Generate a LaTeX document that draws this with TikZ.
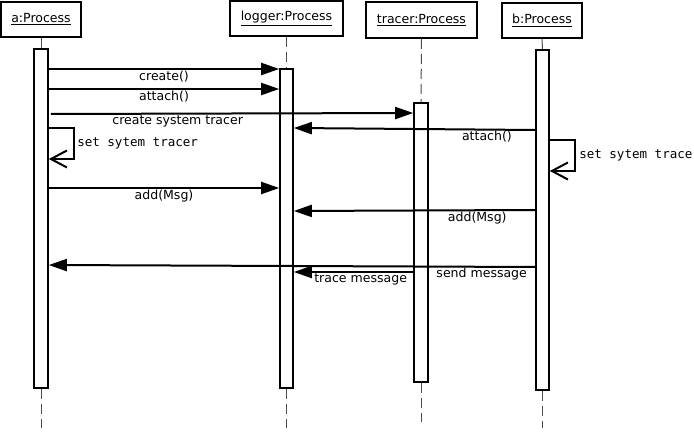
\documentclass[tikz,border=0pt]{standalone}
\usepackage{fontspec}
\setmainfont{DejaVu Sans}
\newfontfamily\monofont{DejaVu Sans Mono}
\usetikzlibrary{arrows.meta,fit,calc}
\begin{document}
\begin{tikzpicture}[x=0.75pt,y=-0.75pt,
  font=\fontsize{9.4pt}{11pt}\selectfont,
  head/.style={draw, line width=1.5pt, minimum height=26.25pt, inner sep=0},
  act/.style={draw, line width=1.2pt, fill=white, inner sep=0},
  life/.style={draw=gray!60!black, line width=0.75pt, dash pattern=on 7.5pt off 3.75pt},
  msg/.style={line width=1.5pt, -{Triangle[length=13.5pt,width=9pt]}},
  selfmsg/.style={line width=1.5pt, -{Straight Barb[length=12pt,width=12.75pt]}},
  lbl/.style={anchor=north, inner sep=0.5pt},
  mono/.style={font=\fontsize{9.4pt}{11pt}\monofont}
]
\useasboundingbox (0,0) rectangle (694,435);
% heads
\node[head, minimum width=60pt] (hA) at (41,19.5) {\underline{a:Process}};
\node[head, minimum width=84.75pt] (hL) at (286.5,18.5) {\underline{logger:Process}};
\node[head, minimum width=83.25pt, minimum height=27pt] (hT) at (421.5,20) {\underline{tracer:Process}};
\node[head, minimum width=60pt] (hB) at (542,20.5) {\underline{b:Process}};
% activations
\node[act, fit={(34,49) (48,388)}] (aA) {};
\node[act, fit={(280,69) (293,388)}] (aL) {};
\node[act, fit={(414,103) (428,382)}] (aT) {};
\node[act, fit={(536,50) (549,390)}] (aB) {};
% lifeline ends
\coordinate (eA) at (41,428);
\coordinate (eL) at (286.5,428);
\coordinate (eT) at (421,422);
\coordinate (eB) at (542.5,428);
% lifelines
\draw[life] (hA.south) -- (aA.north);
\draw[life] (hL.south) -- (aL.north);
\draw[life] (hT.south) -- (aT.north);
\draw[life] (hB.south) -- (aB.north);
\draw[life] (aA.south) -- (eA);
\draw[life] (aL.south) -- (eL);
\draw[life] (aT.south) -- (eT);
\draw[life] (aB.south) -- (eB);
% messages
\draw[msg] (aA.east |- 0,69) -- node[lbl] (m1) {create()} (aL.west |- 0,69);
\draw[msg] (aA.east |- 0,89) -- node[lbl] (m2) {attach()} (aL.west |- 0,89);
\draw[msg] ($(aA.east |- 0,114)+(2,0)$) -- node[lbl, pos=0.35] (m3) {create system tracer} (aT.west |- 0,113);
\coordinate (sa1) at (74,128);
\coordinate (sa2) at (74,159);
\draw[selfmsg] (aA.east |- sa1) -- (sa1) -- (sa2) -- (aA.east |- sa2);
\node[mono, anchor=west, inner sep=0] (m4) at (77,143) {set sytem tracer};
\draw[msg] (aB.west |- 0,130) -- node[lbl, pos=0.2] (m5) {attach()} (aL.east |- 0,128);
\coordinate (sb1) at (575,140);
\coordinate (sb2) at (575,171);
\draw[selfmsg] (aB.east |- sb1) -- (sb1) -- (sb2) -- (aB.east |- sb2);
\node[mono, anchor=west, inner sep=0] (m6) at (579,155) {set sytem trace};
\draw[msg] (aA.east |- 0,188) -- node[lbl] (m7) {add(Msg)} (aL.west |- 0,188);
\draw[msg] (aB.west |- 0,210) -- node[lbl, pos=0.24] (m8) {add(Msg)} (aL.east |- 0,211);
\draw[msg] (aB.west |- 0,267) -- node[lbl, pos=0.11] (m9) {send message} (aA.east |- 0,265);
\draw[msg] (aT.west |- 0,272) -- node[lbl, pos=0.44] (m10) {trace message} (aL.east |- 0,272);
\end{tikzpicture}
\end{document}
